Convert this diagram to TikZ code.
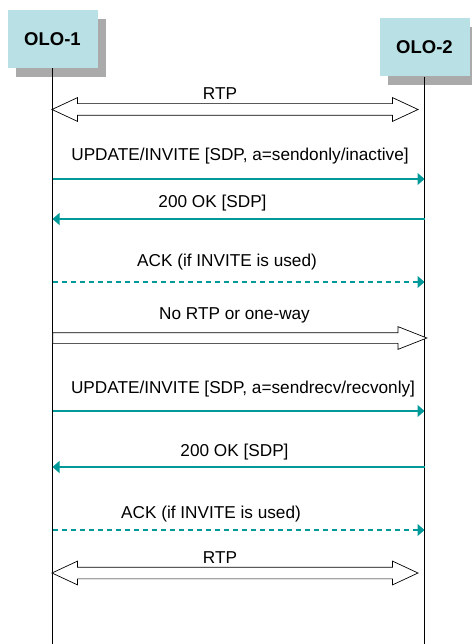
\documentclass[tikz,border=0pt]{standalone}
\usepackage{fontspec}
\setmainfont{Liberation Sans}
\usetikzlibrary{arrows.meta,shapes.arrows,shadows}

\definecolor{oloblue}{RGB}{185,224,228}
\definecolor{oloshadow}{RGB}{170,170,170}
\definecolor{msgteal}{RGB}{0,153,153}

\begin{document}
\begin{tikzpicture}[
        x=1pt, y=-1pt,
        % Entita': riquadro azzurro con ombra grigia
        entity/.style={
            fill=oloblue,
            minimum width=90pt,
            minimum height=58pt,
            inner sep=0pt,
            font=\fontsize{18.5}{22}\selectfont\bfseries,
            drop shadow={shadow xshift=8pt, shadow yshift=-9pt, fill=oloshadow, opacity=1}
        },
        lifeline/.style={
            draw=black,
            line width=0.9pt
        },
        msg/.style={
            draw=msgteal,
            line width=1.1pt,
            -{Triangle[length=7pt,width=12pt]}
        },
        ack/.style={
            msg,
            dash pattern=on 5pt off 4pt
        },
        lbl/.style={
            inner sep=0pt,
            font=\fontsize{17.2}{20}\selectfont
        },
        rtp/.style={
            double arrow,
            draw, fill=white,
            line width=0.7pt,
            inner xsep=0pt, inner ysep=5.5pt,
            minimum height=366pt,
            double arrow head extend=6pt,
            double arrow tip angle=50
        },
        oneway/.style={
            single arrow,
            draw, fill=white,
            line width=0.7pt,
            inner xsep=0pt, inner ysep=5pt,
            minimum height=374pt,
            single arrow head extend=6pt,
            single arrow tip angle=43
        }
    ]

    \path[use as bounding box, fill=white] (0,0) rectangle (471,644);

    % --- Entita' ---
    \node[entity] (olo1) at (52.5, 39) {OLO-1};
    \node[entity] (olo2) at (424.5, 47.5) {OLO-2};

    \coordinate (end1) at (52.5, 644);
    \coordinate (end2) at (424.5, 644);
    \draw[lifeline] (olo1.south) -- (end1);
    \draw[lifeline] (olo2.south) -- (end2);

    % Punti sulle linee di vita
    \foreach \n/\y in {upd1/179, ok1/219, ack1/282, nortp/338, upd2/411, ok2/467, ack2/530} {
        \coordinate (\n-1) at (52.5, \y);
        \coordinate (\n-2) at (424.5, \y);
    }

    % --- Prima fase: sendonly/inactive ---
    \node[rtp] (rtp1) at (235, 109.5) {};
    \node[lbl] (rtp1txt) at (220, 94) {RTP};

    \draw[msg] (upd1-1) -- (upd1-2);
    \node[lbl] (upd1txt) at (240, 156) {UPDATE/INVITE [SDP, a=sendonly/inactive]};

    \draw[msg] (ok1-2) -- (ok1-1);
    \node[lbl] (ok1txt) at (212.5, 203) {200 OK [SDP]};

    \draw[ack] (ack1-1) -- (ack1-2);
    \node[lbl] (ack1txt) at (227, 262) {ACK (if INVITE is used)};

    \node[oneway, anchor=tail] (nortp) at (nortp-1) {};
    \node[lbl] (nortptxt) at (234.5, 315) {No RTP or one-way};

    % --- Seconda fase: sendrecv/recvonly ---
    \draw[msg] (upd2-1) -- (upd2-2);
    \node[lbl] (upd2txt) at (243, 389) {UPDATE/INVITE [SDP, a=sendrecv/recvonly]};

    \draw[msg] (ok2-2) -- (ok2-1);
    \node[lbl] (ok2txt) at (234.5, 452) {200 OK [SDP]};

    \draw[ack] (ack2-1) -- (ack2-2);
    \node[lbl] (ack2txt) at (211, 514) {ACK (if INVITE is used)};

    \node[rtp] (rtp2) at (235, 573) {};
    \node[lbl] (rtp2txt) at (220, 558) {RTP};

\end{tikzpicture}
\end{document}
